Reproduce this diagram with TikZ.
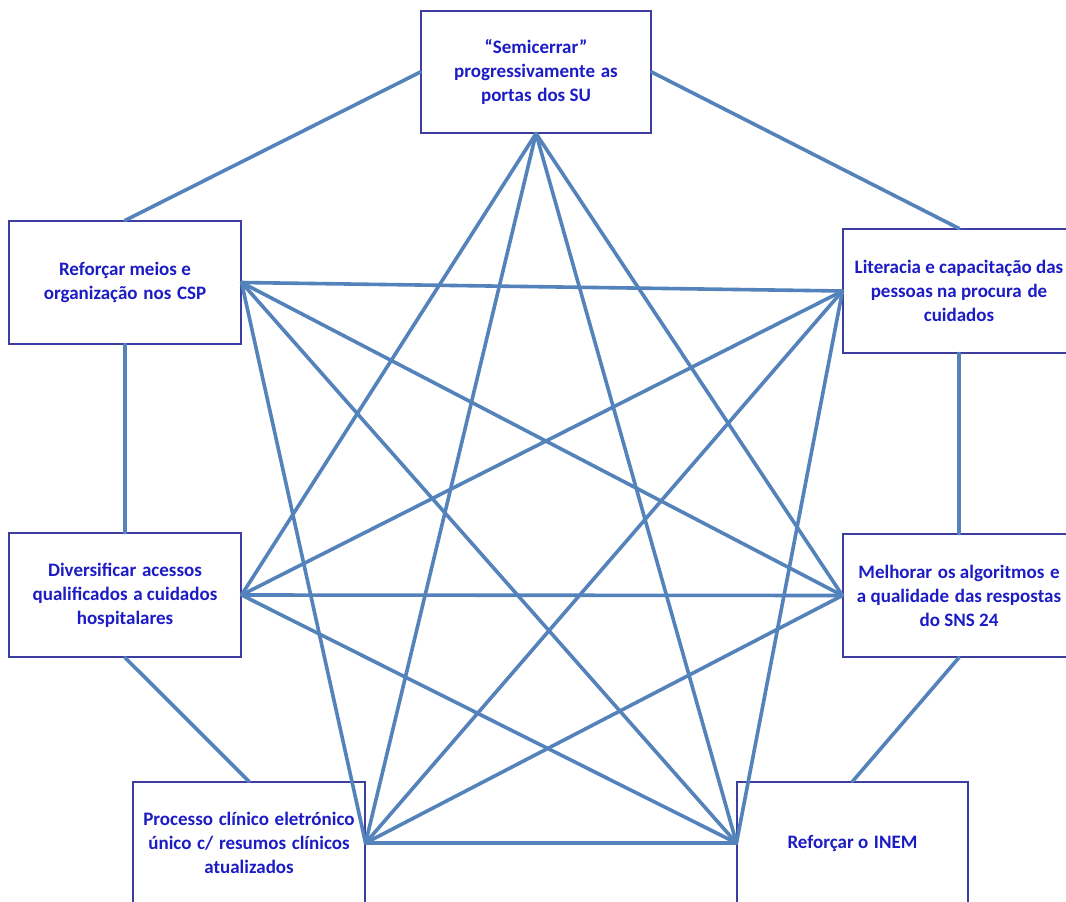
\documentclass[tikz,border=0pt]{standalone}
\usepackage{fontspec}
\setmainfont{Carlito}[BoldFont={Carlito Bold}]
\definecolor{linkc}{RGB}{84,130,186}
\definecolor{boxc}{RGB}{62,62,160}
\definecolor{txtc}{RGB}{28,28,196}
\newcommand{\gp}{\hspace{0.3em}}
\begin{document}
\begin{tikzpicture}[x=1pt,y=-1pt,
  box/.style={draw=boxc,line width=1.1pt,fill=white,rectangle,inner sep=0pt,
    minimum width=232pt,align=center,text=txtc,font=\fontsize{19}{24}\selectfont\bfseries},
  link/.style={draw=linkc,line width=3.6pt,line cap=round}]
\useasboundingbox (0,0) rectangle (1066,902);
\node[box, minimum height=122pt, minimum width=230pt] (top) at (536,72) {“Semicerrar”\\progressivamente\gp as\\portas\gp dos SU};
\node[box, minimum height=123pt] (csp) at (125,282.5) {Reforçar meios e\\organização\gp nos\gp CSP};
\node[box, minimum height=124pt] (lit) at (959,291) {Literacia e capacitação das\\pessoas na procura\gp de\\cuidados};
\node[box, minimum height=124pt] (div) at (125,595) {Diversificar\gp acessos\\qualificados\gp a cuidados\\hospitalares};
\node[box, minimum height=123pt] (mel) at (959,595.5) {Melhorar\gp os algoritmos\gp e\\a qualidade\gp das respostas\\do SNS 24};
\node[box, minimum height=122pt] (proc) at (249,843) {Processo\gp clínico\gp eletrónico\\único\gp c/\gp resumos\gp clínicos\\atualizados};
\node[box, minimum height=122pt, minimum width=231pt] (inem) at (852.5,843) {Reforçar o\gp INEM};
% perimeter
\draw[link] (top.west) -- (csp.north);
\draw[link] (top.east) -- (lit.north);
\draw[link] (csp.south) -- (div.north);
\draw[link] (lit.south) -- (mel.north);
\draw[link] (div.south) -- (proc.north);
\draw[link] (mel.south) -- (inem.north);
% inner
\draw[link] (top.south) -- (div.east);
\draw[link] (top.south) -- (proc.east);
\draw[link] (top.south) -- (inem.west);
\draw[link] (top.south) -- (mel.west);
\draw[link] (csp.east) -- (lit.west);
\draw[link] (csp.east) -- (mel.west);
\draw[link] (csp.east) -- (inem.west);
\draw[link] (csp.east) -- (proc.east);
\draw[link] (lit.west) -- (div.east);
\draw[link] (lit.west) -- (proc.east);
\draw[link] (lit.west) -- (inem.west);
\draw[link] (div.east) -- (mel.west);
\draw[link] (div.east) -- (inem.west);
\draw[link] (mel.west) -- (proc.east);
\draw[link] (proc.east) -- (inem.west);
\end{tikzpicture}
\end{document}
